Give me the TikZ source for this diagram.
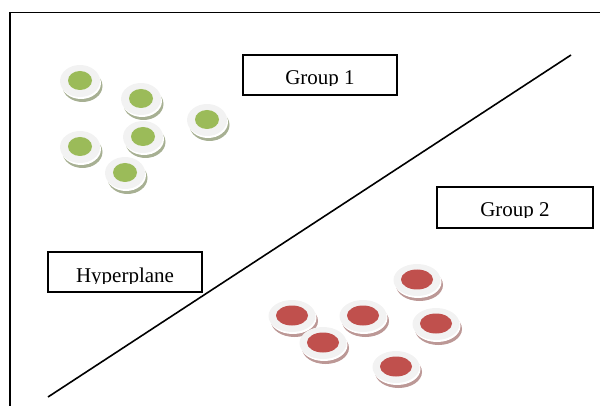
\documentclass[tikz,border=0pt]{standalone}
\usepackage{fontspec}
\setmainfont{Liberation Serif}
\definecolor{plate}{HTML}{F2F2F2}
\definecolor{leaf}{HTML}{9BBB59}
\definecolor{leafshade}{HTML}{A7B093}
\definecolor{brick}{HTML}{C0504D}
\definecolor{brickshade}{HTML}{BC9896}
\tikzset{
  frame/.style={line width=1.9pt, black},
  tagbox/.style={draw=black, line width=1.6pt, fill=white, inner sep=0pt},
  tagtext/.style={font=\fontsize{21}{21}\selectfont, anchor=base, inner sep=0pt},
  % a plate-like token: outer radii, shade colour, core colour, core radii
  pics/token/.style n args={6}{code={
    \fill[#3] (2.5,5) ellipse [x radius=#1, y radius=#2];
    \fill[white] (1,2) ellipse [x radius=#1, y radius=#2];
    \fill[plate] (0,0) ellipse [x radius=#1, y radius=#2];
    \fill[#4] (0,-0.5) ellipse [x radius=#5, y radius=#6];
  }},
  pics/green token/.style={/tikz/pics/token={20}{16}{leafshade}{leaf}{12}{9.5}},
  pics/red token/.style={/tikz/pics/token={23.5}{16}{brickshade}{brick}{16}{10}},
}
\begin{document}
\begin{tikzpicture}[x=1pt, y=-1pt]
\useasboundingbox (0,0) rectangle (600,406);

% outer frame (left and top edges)
\coordinate (fbl) at (10,406);
\coordinate (ftl) at (10,12.5);
\coordinate (ftr) at (600,12.5);
\draw[frame] (fbl) -- (ftl) -- (ftr);

% separating line
\coordinate (hlow) at (48,397);
\coordinate (hhigh) at (571,55);
\draw[line width=1.6pt] (hlow) -- (hhigh);

% class 1 tokens
\foreach \px/\py [count=\i] in {80/81, 141/99, 207/120, 143/137, 80/147, 125/173}
  \pic (gt\i) at (\px,\py) {green token};

% class 2 tokens
\foreach \px/\py [count=\i] in {417/280, 292/316, 363/316, 436/324, 323/343, 396/367}
  \pic (rt\i) at (\px,\py) {red token};

% labels in boxes, text cut at the baseline
\node[tagbox, minimum width=154pt, minimum height=40pt] (g1) at (320,75) {};
\begin{scope}
  \clip (243,55) rectangle (397,85.5);
  \node[tagtext] (g1t) at (320,85) {Group 1};
\end{scope}

\node[tagbox, minimum width=156pt, minimum height=41pt] (g2) at (515,207.5) {};
\begin{scope}
  \clip (437,187) rectangle (593,217.5);
  \node[tagtext] (g2t) at (515,217) {Group 2};
\end{scope}

\node[tagbox, minimum width=154pt, minimum height=40pt] (hp) at (125,272) {};
\begin{scope}
  \clip (48,252) rectangle (202,283.5);
  \node[tagtext] (hpt) at (125,283) {Hyperplane};
\end{scope}
\end{tikzpicture}
\end{document}
